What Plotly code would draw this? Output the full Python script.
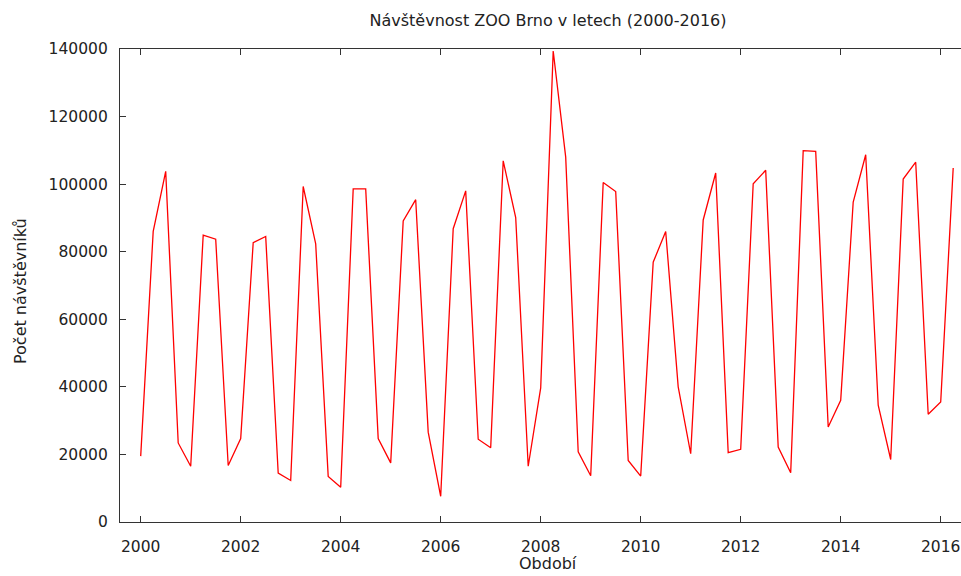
import plotly.graph_objects as go

# Quarterly visitor counts of Brno ZOO, 2000 Q1 - 2016 Q2
start_year = 2000
visitors = [
    19500, 86000, 103800, 23400,   # 2000
    16500, 84900, 83700, 16700,    # 2001
    24700, 82700, 84500, 14500,    # 2002
    12300, 99300, 82300, 13500,    # 2003
    10300, 98600, 98600, 24700,    # 2004
    17500, 89100, 95400, 26600,    # 2005
    7600, 86800, 98000, 24500,     # 2006
    22000, 106900, 90100, 16500,   # 2007
    39700, 139400, 108000, 20800,  # 2008
    13700, 100500, 97800, 18200,   # 2009
    13600, 76900, 86000, 40000,    # 2010
    20200, 89400, 103300, 20500,   # 2011
    21500, 100100, 104100, 22200,  # 2012
    14600, 109900, 109700, 28100,  # 2013
    36000, 94700, 108700, 34600,   # 2014
    18500, 101500, 106500, 31900,  # 2015
    35500, 104800,                 # 2016
]
periods = [start_year + i * 0.25 for i in range(len(visitors))]

x_ticks = list(range(2000, 2017, 2))
y_ticks = list(range(0, 140001, 20000))

title_text = "Návštěvnost ZOO Brno v letech (2000-2016)"
x_title = "Období"
y_title = "Počet návštěvníků"

W, H = 961, 576
ML, MR, MT, MB = 120, 0, 49, 54
axis_color = "#333333"
text_color = "#222222"
font_family = "DejaVu Sans, Verdana, sans-serif"

fig = go.Figure(
    go.Scatter(
        x=periods,
        y=visitors,
        mode="lines",
        line=dict(color="#ff0000", width=1.3),
        hoverinfo="x+y",
    )
)

fig.update_layout(
    width=W,
    height=H,
    margin=dict(l=ML, r=MR, t=MT, b=MB, pad=0),
    paper_bgcolor="white",
    plot_bgcolor="white",
    showlegend=False,
    font=dict(family=font_family, size=16, color=text_color),
    title=dict(
        text=title_text,
        x=548 / W,
        xref="container",
        xanchor="center",
        y=1 - 20 / H,
        yref="container",
        yanchor="middle",
        font=dict(size=16, color=text_color),
    ),
    xaxis=dict(
        range=[1999.586, 1999.586 + (W - ML) / 50.0],
        tickmode="array",
        tickvals=x_ticks,
        ticktext=[str(v) for v in x_ticks],
        ticks="inside",
        ticklen=6,
        tickwidth=1.3,
        tickcolor=axis_color,
        showline=True,
        linecolor=axis_color,
        linewidth=1.3,
        mirror="ticks",
        showgrid=False,
        zeroline=False,
        ticklabelstandoff=10,
        tickfont=dict(size=15.5),
    ),
    yaxis=dict(
        range=[0, 140000],
        tickmode="array",
        tickvals=y_ticks,
        ticktext=[str(v) for v in y_ticks],
        ticks="inside",
        ticklen=6,
        tickwidth=1.3,
        tickcolor=axis_color,
        showline=True,
        linecolor=axis_color,
        linewidth=1.3,
        mirror=False,
        showgrid=False,
        zeroline=False,
        ticklabelstandoff=8,
        tickfont=dict(size=15.5),
    ),
    annotations=[
        dict(
            text=x_title,
            xref="paper",
            yref="paper",
            x=(548 - ML) / (W - ML),
            y=(H - MB - H) / (H - MT - MB),
            xanchor="center",
            yanchor="bottom",
            yshift=1,
            showarrow=False,
            font=dict(size=16),
        ),
        dict(
            text=y_title,
            xref="paper",
            yref="paper",
            x=(20 - ML) / (W - ML),
            y=(H - MB - 291) / (H - MT - MB),
            xanchor="center",
            yanchor="middle",
            textangle=-90,
            showarrow=False,
            font=dict(size=16),
        ),
    ],
)

fig.write_html("out.html")
